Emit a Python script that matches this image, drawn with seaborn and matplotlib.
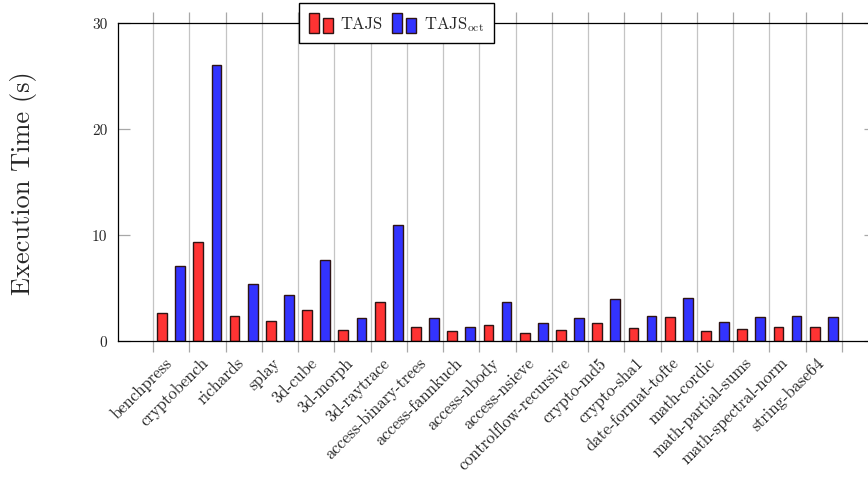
import numpy as np
import pandas as pd
import matplotlib
matplotlib.use("Agg")
import matplotlib.pyplot as plt
import seaborn as sns
from matplotlib.patches import Rectangle
from matplotlib.legend_handler import HandlerBase

# Benchmark programs and execution times (seconds)
benchmarks = [
    "benchpress", "cryptobench", "richards", "splay", "3d-cube", "3d-morph",
    "3d-raytrace", "access-binary-trees", "access-fannkuch", "access-nbody",
    "access-nsieve", "controlflow-recursive", "crypto-md5", "crypto-sha1",
    "date-format-tofte", "math-cordic", "math-partial-sums",
    "math-spectral-norm", "string-base64",
]
tajs = [2.6, 9.3, 2.4, 1.9, 2.9, 1.0, 3.7, 1.3, 0.9, 1.5,
        0.8, 1.0, 1.7, 1.2, 2.3, 0.9, 1.1, 1.3, 1.3]
tajs_oct = [7.1, 26.0, 5.4, 4.3, 7.6, 2.2, 10.9, 2.2, 1.3, 3.7,
            1.7, 2.2, 4.0, 2.4, 4.1, 1.8, 2.3, 2.4, 2.3]
series = ["TAJS", "TAJS_oct"]
series_labels = ["TAJS", r"TAJS$_{\mathrm{oct}}$"]
colors = ["#ff3333", "#3333ff"]
yticks = [0, 10, 20, 30]

df = pd.DataFrame({
    "benchmark": benchmarks * 2,
    "analysis": [series[0]] * len(benchmarks) + [series[1]] * len(benchmarks),
    "time": tajs + tajs_oct,
})

sns.set_theme(style="white")
plt.rcParams["font.family"] = ["cmr10", "DejaVu Serif"]
plt.rcParams["mathtext.fontset"] = "cm"
plt.rcParams["axes.formatter.use_mathtext"] = True

W, H = 868, 481
fig = plt.figure(figsize=(W / 100, H / 100), dpi=100)
ax = fig.add_axes([118 / W, (H - 342) / H, (876 - 118) / W, 318 / H])

edge = "#2e1414"
sns.barplot(
    data=df, x="benchmark", y="time", hue="analysis", hue_order=series,
    palette=dict(zip(series, colors)), saturation=1, width=1.0, gap=0.46,
    errorbar=None, legend=False, edgecolor=edge, linewidth=1.0, ax=ax,
)

n = len(benchmarks)
# grid / tick marks sit between the bar groups; labels slightly to the right
grid_pos = np.arange(n + 1) - 0.5
ax.set_xticks(grid_pos)
ax.set_xticklabels([])
ax.set_xticks(grid_pos[:-1] + 0.30, minor=True)
ax.set_xticklabels(benchmarks, minor=True, rotation=45, ha="right",
                   va="top", rotation_mode="anchor", fontsize=12)
ax.set_xlim(-0.5 - 0.966, -0.5 + 19.94)
ax.set_ylim(0, 30)
ax.set_yticks(yticks)
ax.set_yticklabels([str(v) for v in yticks], fontsize=11)

ax.grid(axis="x", which="major", color="#c4c4c4", linewidth=0.9)
ax.set_axisbelow(True)
ax.tick_params(axis="x", which="major", bottom=True, top=True,
               direction="out", length=8.2, width=0.9, color="#a8a8a8")
ax.tick_params(axis="x", which="minor", bottom=True, length=0, pad=9.5)
ax.tick_params(axis="y", left=True, right=True, direction="in",
               length=8.6, width=0.9, color="#a8a8a8", pad=7.5)

for s in ax.spines.values():
    s.set_visible(True)
    s.set_color("black")
    s.set_linewidth(0.9)

ax.set_xlabel("")
ax.set_ylabel("Execution Time (s)", fontsize=19, va="center")
ax.yaxis.set_label_coords(-0.125, 0.5)


class HandlerPairBars(HandlerBase):
    def create_artists(self, legend, orig_handle, xdescent, ydescent,
                       width, height, fontsize, trans):
        fc = orig_handle.get_facecolor()
        w = width * 0.42
        r1 = Rectangle((-xdescent, -ydescent), w, height, facecolor=fc,
                       edgecolor=edge, linewidth=1.0, transform=trans)
        r2 = Rectangle((-xdescent + width - w, -ydescent), w, height * 0.77,
                       facecolor=fc, edgecolor=edge, linewidth=1.0,
                       transform=trans)
        return [r1, r2]


handles = [Rectangle((0, 0), 1, 1, facecolor=c) for c in colors]
leg = fig.legend(
    handles, series_labels, loc="upper left",
    bbox_to_anchor=(299 / W, 1 - 4 / H), ncol=2, frameon=True,
    fancybox=False, edgecolor="black", framealpha=1, fontsize=12,
    handlelength=1.45, handleheight=1.45, handletextpad=0.45,
    columnspacing=0.55, borderpad=0.6, borderaxespad=0,
    handler_map={Rectangle: HandlerPairBars()},
)
leg.get_frame().set_linewidth(1.0)

fig.savefig("out.png", dpi=100)
